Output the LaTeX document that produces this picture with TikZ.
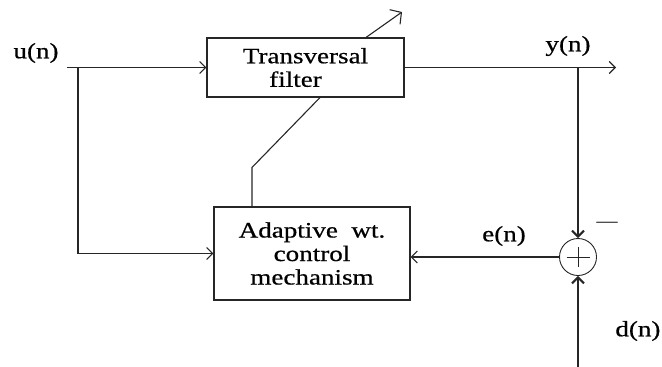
\documentclass[tikz,border=0pt]{standalone}
\usepackage{fontspec}
\setmainfont{Liberation Serif}[FakeStretch=1.23,FakeBold=0.6]
\usetikzlibrary{arrows.meta}
\begin{document}
\begin{tikzpicture}[x=1pt,y=-1pt, line width=1.1pt, color=black!85,
  blk/.style={draw, inner sep=0pt, align=center, text=black, font=\fontsize{22}{23.5}\selectfont},
  lbl/.style={inner sep=0pt, text=black, font=\fontsize{22}{23.5}\selectfont},
  >={Straight Barb[length=6pt,width=12pt]},
  boldtip/.style={-{Straight Barb[length=6pt,width=12pt,line width=2pt]}}]
\useasboundingbox (0,0) rectangle (662,367);
\node[blk, minimum width=197pt, minimum height=59pt] (tf) at (305.5,67.5) {Transversal\\filter\hspace*{20pt}};
\node[blk, minimum width=196pt, minimum height=93pt] (aw) at (312,253.5) {Adaptive\ \ wt.\\control\\mechanism};
\node[circle, draw, line width=0.9pt, minimum size=37pt, inner sep=0pt] (sum) at (578,257) {};
\draw[line width=0.9pt] ([xshift=-11.5pt]sum.center) -- ([xshift=11.5pt]sum.center);
\draw[line width=0.9pt] ([yshift=-10pt]sum.center) -- ([yshift=10pt]sum.center);
\node[lbl] (u) at (36,53) {u(n)};
\node[lbl] (y) at (568,46) {y(n)};
\node[lbl] (e) at (504,236) {e(n)};
\node[lbl, anchor=east] (d) at (661,331) {d(n)};
\node[lbl, font=\fontsize{17}{18}\selectfont] (minus) at (607,224) {—};
\coordinate (uin) at (67,67.5);
\coordinate (br) at (78,67.5);
\coordinate (yend) at (616,67.5);
\coordinate (ytap) at (578,67.5);
\coordinate (din) at (578,367);
\coordinate (adjend) at (402,12);
\draw[->] (uin) -- (tf.west);
\draw[->] (br) |- (aw.west);
\draw[->] (tf.east) -- (yend);
\draw[boldtip] (ytap) -- (sum.north);
\draw[boldtip] (din) -- (sum.south);
\draw[->] (sum.west) -- (aw.east |- sum.west);
\draw ([xshift=-60pt]aw.north) -- ++(0,-39) -- ([xshift=14.5pt]tf.south);
\draw[-{Straight Barb[length=8pt,width=18pt]}] ([xshift=60.5pt]tf.north) -- (adjend);
\end{tikzpicture}
\end{document}
